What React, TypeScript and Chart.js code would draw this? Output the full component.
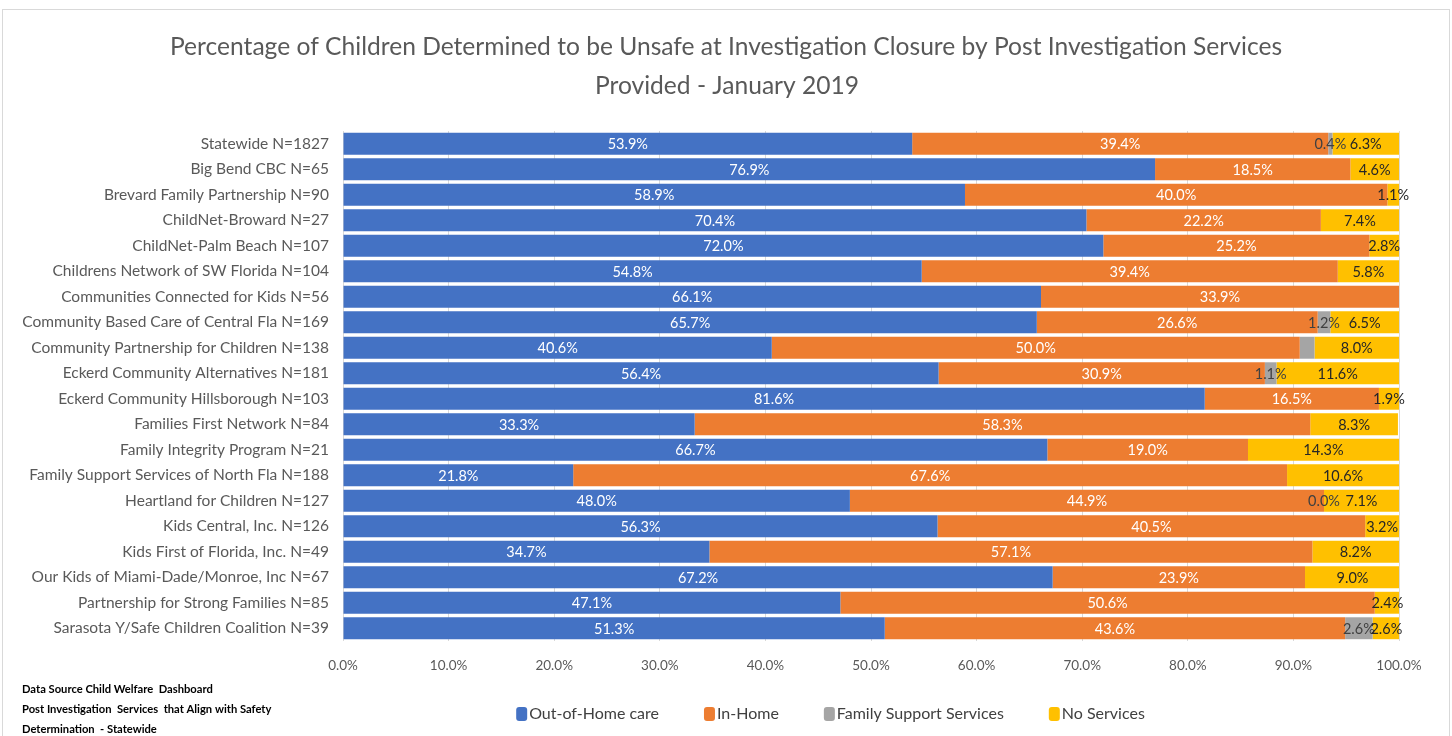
import React, { useEffect, useRef } from "react";
import { Chart, registerables } from "chart.js";

Chart.register(...registerables);

const categories = [
  "Statewide N=1827",
  "Big Bend CBC N=65",
  "Brevard Family Partnership N=90",
  "ChildNet-Broward N=27",
  "ChildNet-Palm Beach N=107",
  "Childrens Network of SW Florida N=104",
  "Communities Connected for Kids N=56",
  "Community Based Care of Central Fla N=169",
  "Community Partnership for Children N=138",
  "Eckerd Community Alternatives N=181",
  "Eckerd Community Hillsborough N=103",
  "Families First Network N=84",
  "Family Integrity Program N=21",
  "Family Support Services of North Fla N=188",
  "Heartland for Children N=127",
  "Kids Central, Inc. N=126",
  "Kids First of Florida, Inc. N=49",
  "Our Kids of Miami-Dade/Monroe, Inc N=67",
  "Partnership for Strong Families N=85",
  "Sarasota Y/Safe Children Coalition N=39",
];

const outOfHome = [53.9, 76.9, 58.9, 70.4, 72.0, 54.8, 66.1, 65.7, 40.6, 56.4, 81.6, 33.3, 66.7, 21.8, 48.0, 56.3, 34.7, 67.2, 47.1, 51.3];
const inHome = [39.4, 18.5, 40.0, 22.2, 25.2, 39.4, 33.9, 26.6, 50.0, 30.9, 16.5, 58.3, 19.0, 67.6, 44.9, 40.5, 57.1, 23.9, 50.6, 43.6];
const familySupport = [0.4, null, null, null, null, null, null, 1.2, 1.4, 1.1, null, null, null, null, 0.0, null, null, null, null, 2.6];
const noServices = [6.3, 4.6, 1.1, 7.4, 2.8, 5.8, null, 6.5, 8.0, 11.6, 1.9, 8.3, 14.3, 10.6, 7.1, 3.2, 8.2, 9.0, 2.4, 2.6];
// labels not shown in the reference (index per series)
const hiddenFamilySupportLabels = [8];

const xTicks = [0, 10, 20, 30, 40, 50, 60, 70, 80, 90, 100];

const titleLines = [
  "Percentage of Children Determined to be Unsafe at Investigation Closure by Post Investigation Services",
  "Provided - January 2019",
];
const footnoteLines = [
  "Data Source Child Welfare  Dashboard",
  "Post Investigation  Services  that Align with Safety",
  "Determination  - Statewide",
];

const seriesNames = ["Out-of-Home care", "In-Home", "Family Support Services", "No Services"];
const seriesColors = ["#4472C4", "#ED7D31", "#A5A5A5", "#FFC000"];
const labelColors = ["#FFFFFF", "#FFFFFF", "#404040", "#262626"];

const FONT = "Lato, 'Open Sans', sans-serif";

const decorPlugin = {
  id: "decor",
  afterDatasetsDraw(chart: any) {
    const ctx = chart.ctx;
    ctx.save();
    ctx.textAlign = "center";
    ctx.textBaseline = "middle";
    ctx.font = `14.5px ${FONT}`;
    chart.data.datasets.forEach((ds: any, di: number) => {
      const meta = chart.getDatasetMeta(di);
      meta.data.forEach((el: any, j: number) => {
        const v = ds.data[j];
        if (v === null || v === undefined) return;
        if (di === 2 && hiddenFamilySupportLabels.includes(j)) return;
        const cx = (el.x + el.base) / 2;
        ctx.fillStyle = labelColors[di];
        ctx.fillText(v.toFixed(1) + "%", cx, el.y + 1);
      });
    });
    ctx.restore();
  },
  afterDraw(chart: any) {
    const ctx = chart.ctx;
    ctx.save();
    // title
    ctx.fillStyle = "#595959";
    ctx.font = `24.6px ${FONT}`;
    ctx.textAlign = "center";
    ctx.textBaseline = "middle";
    ctx.fillText(titleLines[0], 723, 37);
    ctx.fillText(titleLines[1], 724, 76);
    // footnote
    ctx.fillStyle = "#000000";
    ctx.font = `bold 11.2px ${FONT}`;
    ctx.textAlign = "left";
    footnoteLines.forEach((t, i) => ctx.fillText(t, 19, 679 + i * 20));
    // legend
    ctx.font = `16px ${FONT}`;
    const gap = 44;
    const box = 11;
    const widths = seriesNames.map((n) => ctx.measureText(n).width);
    const total = widths.reduce((a, b) => a + b + box + 3, 0) + gap * (seriesNames.length - 1);
    let x = 828 - total / 2;
    const y = 704;
    seriesNames.forEach((n, i) => {
      ctx.fillStyle = seriesColors[i];
      ctx.beginPath();
      (ctx as any).roundRect(x, y - 7, box, 14, 3);
      ctx.fill();
      ctx.fillStyle = "#404040";
      ctx.fillText(n, x + box + 2, y);
      x += box + 3 + widths[i] + gap;
    });
    ctx.restore();
  },
};

export default function App() {
  const ref = useRef<HTMLCanvasElement>(null);
  useEffect(() => {
    if (!ref.current) return;
    const datasets = [outOfHome, inHome, familySupport, noServices].map((d, i) => ({
      label: seriesNames[i],
      data: d,
      backgroundColor: seriesColors[i],
      borderWidth: 0,
      barPercentage: 0.86,
      categoryPercentage: 1,
    }));
    const chart = new Chart(ref.current, {
      type: "bar",
      data: { labels: categories, datasets },
      plugins: [decorPlugin],
      options: {
        indexAxis: "y",
        animation: false,
        responsive: false,
        maintainAspectRatio: false,
        layout: { padding: { top: 121, left: 0, right: 50, bottom: 55 } },
        plugins: {
          legend: { display: false },
          title: { display: false },
          tooltip: { enabled: false },
        },
        scales: {
          x: {
            stacked: true,
            min: 0,
            max: 100,
            afterBuildTicks: (scale: any) => {
              scale.ticks = xTicks.map((v) => ({ value: v }));
            },
            afterFit: (scale: any) => {
              scale.height = 40;
            },
            ticks: {
              callback: (v: any) => Number(v).toFixed(1) + "%",
              color: "#595959",
              font: { family: FONT, size: 13.5 },
              padding: 17,
              maxRotation: 0,
              autoSkip: false,
            },
            grid: { color: "#D9D9D9", drawTicks: false },
            border: { display: false },
          },
          y: {
            stacked: true,
            afterFit: (scale: any) => {
              scale.width = 340;
            },
            ticks: {
              color: "#595959",
              font: { family: FONT, size: 15.5 },
              padding: 14,
              autoSkip: false,
            },
            grid: { display: false, drawTicks: false },
            border: { display: false },
          },
        },
      },
    });
    return () => chart.destroy();
  }, []);
  return (
    <div
      style={{
        position: "absolute",
        left: 2,
        top: 9,
        width: 1448,
        height: 740,
        border: "1px solid #D9D9D9",
        boxSizing: "border-box",
        background: "#fff",
      }}
    >
      <canvas ref={ref} width={1446} height={726} style={{ display: "block", width: 1446, height: 726 }} />
    </div>
  );
}
